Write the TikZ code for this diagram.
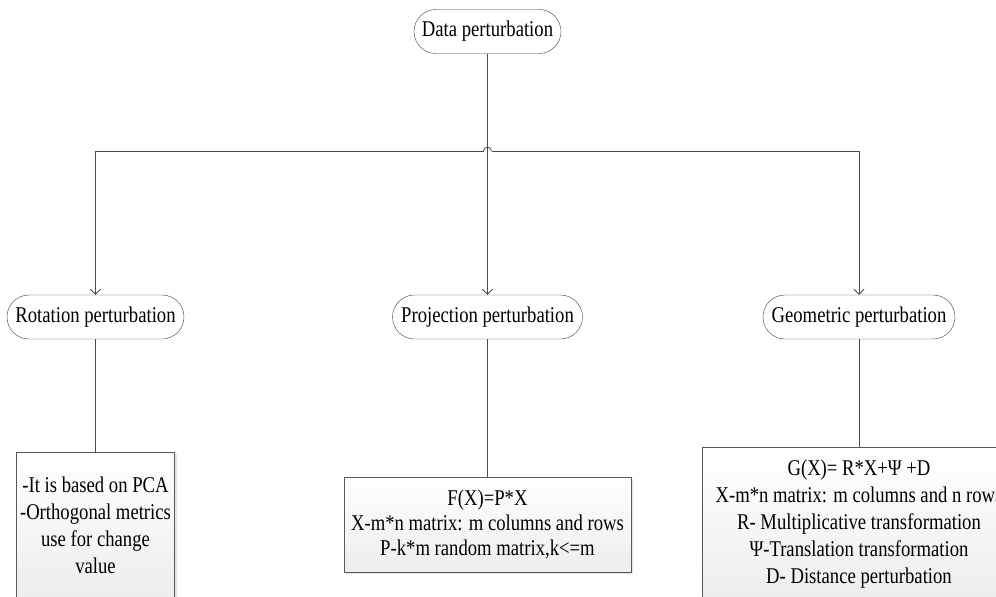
\documentclass[tikz,border=0pt]{standalone}
\usepackage{fontspec}
\setmainfont{Liberation Serif}[FakeStretch=0.83]
\usetikzlibrary{arrows.meta,shadows}

\tikzset{
    pill/.style={draw=black!75,fill=white,rounded corners=22pt,minimum height=44pt,inner sep=0pt,font=\fontsize{22.5}{26}\selectfont},
    infobox/.style={draw=black!65,top color=white,bottom color=gray!14,inner sep=0pt,align=center,
        drop shadow={shadow xshift=2pt,shadow yshift=-2pt,fill=gray!45}},
    link/.style={draw=black!70,line width=0.8pt},
}

\begin{document}
\begin{tikzpicture}[x=1pt,y=1pt]
    % Parameters
    \def\forkY{-151} % height of the branching line
    \def\hop{4} % radius of the line jump

    \useasboundingbox (0,0) rectangle (996,-597);

    % Root and the three methods
    \node[pill,minimum width=147pt] (data) at (487.5,-31.5) {Data perturbation};
    \node[pill,minimum width=177pt] (rot) at (95.5,-317) {Rotation perturbation};
    \node[pill,minimum width=190pt] (proj) at (487.5,-317) {Projection perturbation};
    \node[pill,minimum width=192pt] (geo) at (859,-317) {Geometric perturbation};

    % Description boxes
    \node[infobox,minimum width=158pt,minimum height=147pt,font=\fontsize{22.5}{27}\selectfont] (rotbox) at (95.5,-525.5)
        {-It is based on PCA\\-Orthogonal metrics\\use for change\\value};
    \node[infobox,minimum width=287pt,minimum height=95pt,font=\fontsize{22.5}{25}\selectfont] (projbox) at (487.5,-524.5)
        {F(X)=P*X\\X-m*n matrix: m columns and rows\\P-k*m random matrix,k<=m};
    \node[infobox,minimum width=314pt,minimum height=154pt,font=\fontsize{22.5}{27}\selectfont] (geobox) at (859,-524)
        {G(X)= R*X+\symbol{"03A8} +D\\X-m*n matrix: m columns and n rows\\R- Multiplicative transformation\\\symbol{"03A8}-Translation transformation\\D- Distance perturbation};

    % Branching line with a jump over the middle connector
    \coordinate (hopL) at (487.5-\hop,\forkY);
    \draw[link] (hopL) arc (180:0:\hop) coordinate (hopR);
    \draw[link,-{Straight Barb[length=5pt,width=10pt]}] (hopL) -| (rot.north);
    \draw[link,-{Straight Barb[length=5pt,width=10pt]}] (hopR) -| (geo.north);
    \draw[link,-{Straight Barb[length=5pt,width=10pt]}] (data.south) -- (proj.north);

    % Methods to their descriptions
    \draw[link] (rot.south) -- (rotbox.north);
    \draw[link] (proj.south) -- (projbox.north);
    \draw[link] (geo.south) -- (geobox.north);
\end{tikzpicture}
\end{document}
